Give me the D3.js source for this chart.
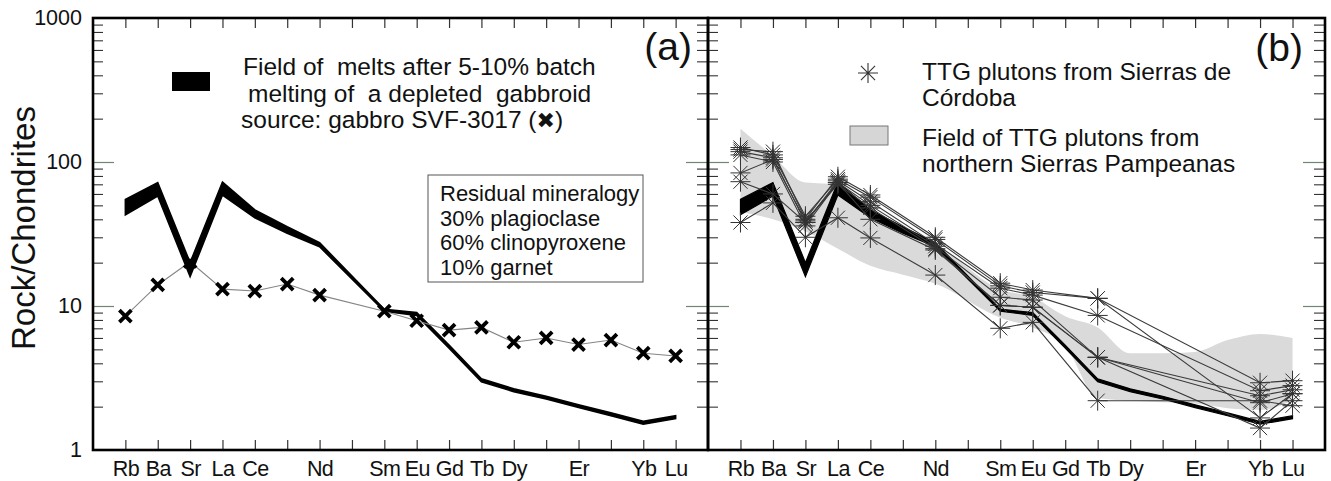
<!DOCTYPE html>
<html>
<head>
<meta charset="utf-8">
<script src="https://cdn.jsdelivr.net/npm/d3@7"></script>
<style>
  html, body { margin: 0; padding: 0; background: #fff; }
  svg { display: block; font-family: "Liberation Sans", Arial, Helvetica, sans-serif; }
</style>
</head>
<body>
<svg id="chart" width="1331" height="481"></svg>
<script>
// Element order along the x axis (chondrite-normalised spider diagram)
const elements = ["Rb","Ba","Sr","La","Ce","Pr","Nd","Pm","Sm","Eu","Gd","Tb","Dy","Ho","Er","Tm","Yb","Lu"];
const axisLabels = ["Rb","Ba","Sr","La","Ce","Nd","Sm","Eu","Gd","Tb","Dy","Er","Yb","Lu"];
const yTickLabels = [1, 10, 100, 1000];

// Field of melts after 5-10% batch melting (upper / lower bound)
const meltElements = ["Rb","Ba","Sr","La","Ce","Pr","Nd","Sm","Eu","Gd","Tb","Dy","Ho","Er","Tm","Yb","Lu"];
const meltHigh = [55, 72, 20, 72.5, 46.5, 35.5, 27.5, 9.5, 9.0, 5.35, 3.12, 2.66, 2.36, 2.06, 1.81, 1.58, 1.73];
const meltLow  = [43, 58, 16, 59, 41, 32, 25.8, 9.2, 8.6, 5.1, 2.98, 2.54, 2.26, 1.97, 1.73, 1.51, 1.65];

// Gabbro SVF-3017 source
const gabbroElements = ["Rb","Ba","Sr","La","Ce","Pr","Nd","Sm","Eu","Gd","Tb","Dy","Ho","Er","Tm","Yb","Lu"];
const gabbroValues = [8.5, 14.0, 20.3, 13.1, 12.7, 14.2, 11.9, 9.2, 7.9, 6.8, 7.1, 5.6, 6.0, 5.4, 5.8, 4.7, 4.5];

// TTG plutons from Sierras de Córdoba
const ttgElements = ["Rb","Ba","Sr","La","Ce","Nd","Sm","Eu","Tb","Yb","Lu"];
const ttg1 = [122, 118, 40, 79, 59, 30, 14.4, 12.9, 11.3, 2.93, 3.03];
const ttg2 = [126, 112, 42, 76, 57, 29, 13.8, 12.4, 11.3, 1.67, 2.46];
const ttg3 = [118, 107, 38, 74, 53, 27, 13.3, 11.9, 8.6, 2.58, 2.80];
const ttg4 = [112, 100, 36, 72, 50, 26, 11.5, 11.0, 4.4, 2.38, 2.62];
const ttg5 = [84, 104, 39, 70, 48, 25, 10.1, 9.8, 4.4, 2.13, 2.46];
const ttg6 = [73, 60, 38, 72, 40, 24.5, 10.1, 9.8, 4.4, 1.42, 2.2];
const ttg7 = [38, 52, 30, 41, 29.7, 16.4, 7.0, 7.7, 2.2, 2.2, 2.03];

// Field of TTG plutons from northern Sierras Pampeanas
const fieldElements = ["Rb","Ba","Sr","La","Ce","Pr","Nd","Sm","Eu","Gd","Tb","Dy","Ho","Er","Tm","Yb","Lu"];
const fieldHigh = [170, 110, 72, 70, 42, 33, 27, 13, 11.5, 8.5, 7.1, 4.7, 4.7, 4.8, 5.8, 6.4, 6.0];
const fieldLow  = [45, 40, 33, 25, 19, 16.5, 14.3, 8.3, 7.1, 5.3, 2.3, 2.2, 2.15, 2.1, 1.95, 1.9, 2.2];

const svg = d3.select("#chart");
const plotTop = 18, plotBottom = 450;
const y = d3.scaleLog().domain([1, 1000]).range([plotBottom, plotTop]);
const idx = name => elements.indexOf(name);
const zip = (names, vals) => names.map((n, i) => ({ el: n, v: vals[i] }));

const minorValues = [];
[1, 10, 100].forEach(d => { for (let k = 2; k <= 9; k++) minorValues.push(d * k); });

function drawFrameAxes(g, x, x0, x1, withLabels) {
  const clean = sel => sel.select(".domain").remove();
  // left side minor / major ticks (pointing inward)
  g.append("g").attr("transform", `translate(${x0},0)`)
    .call(d3.axisLeft(y).tickValues(minorValues).tickSize(-10).tickFormat(""))
    .call(clean).selectAll("line").attr("stroke", "#333").attr("stroke-width", 1.1);
  g.append("g").attr("transform", `translate(${x0},0)`)
    .call(d3.axisLeft(y).tickValues([10, 100]).tickSize(-21).tickFormat(""))
    .call(clean).selectAll("line").attr("stroke", "#6f8676").attr("stroke-width", 1.2);
  // right side ticks
  g.append("g").attr("transform", `translate(${x1},0)`)
    .call(d3.axisRight(y).tickValues(minorValues).tickSize(-11).tickFormat(""))
    .call(clean).selectAll("line").attr("stroke", "#333").attr("stroke-width", 1.1);
  g.append("g").attr("transform", `translate(${x1},0)`)
    .call(d3.axisRight(y).tickValues([10, 100]).tickSize(-22).tickFormat(""))
    .call(clean).selectAll("line").attr("stroke", "#6f8676").attr("stroke-width", 1.2);
  // top ticks
  g.append("g").attr("transform", `translate(0,${plotTop})`)
    .call(d3.axisTop(x).tickValues(d3.range(elements.length)).tickSize(-10).tickFormat(""))
    .call(clean).selectAll("line").attr("stroke", "#333").attr("stroke-width", 1.2);
  // bottom ticks with element labels
  const bx = g.append("g").attr("transform", `translate(0,${plotBottom})`)
    .call(d3.axisBottom(x).tickValues(d3.range(elements.length)).tickSize(-10).tickPadding(11)
      .tickFormat(i => axisLabels.includes(elements[i]) ? elements[i] : ""))
    .call(clean);
  bx.selectAll("line").attr("stroke", "#333").attr("stroke-width", 1.2);
  bx.selectAll("text").attr("font-size", 21.5).attr("fill", "#111")
    .attr("font-family", "'Liberation Sans', Arial, sans-serif").attr("letter-spacing", "-0.6");

  if (withLabels) {
    const ly = g.append("g").attr("transform", `translate(${x0},0)`)
      .call(d3.axisLeft(y).tickValues(yTickLabels).tickSize(0).tickPadding(11).tickFormat(d3.format("d")))
      .call(clean);
    ly.selectAll("text").attr("font-size", 21.5).attr("fill", "#111")
      .attr("font-family", "'Liberation Sans', Arial, sans-serif");
  }
}

function drawFrame(g, x0, x1) {
  g.append("rect").attr("x", x0).attr("y", plotTop)
    .attr("width", x1 - x0).attr("height", plotBottom - plotTop)
    .attr("fill", "none").attr("stroke", "#000").attr("stroke-width", 2.6);
}

function drawMelt(g, x, strokeW) {
  const melt = meltElements.map((el, i) => ({ el, hi: meltHigh[i], lo: meltLow[i] }));
  g.append("path").datum(melt)
    .attr("d", d3.area().x(d => x(idx(d.el))).y0(d => y(d.lo)).y1(d => y(d.hi)))
    .attr("fill", "#000").attr("stroke", "#000").attr("stroke-width", strokeW)
    .attr("stroke-linejoin", "miter");
}

const crossPath = "M-6,-6L6,6M-6,6L6,-6";
const starPath = (r) => {
  const a = r * Math.SQRT1_2;
  return `M${-r},0L${r},0M0,${-r}L0,${r}M${-a},${-a}L${a},${a}M${-a},${a}L${a},${-a}`;
};

// ---------- Panel (a) ----------
const xa = d3.scaleLinear().domain([-1, elements.length]).range([93, 708]);
const ga = svg.append("g");
drawFrameAxes(ga, xa, 93, 708, true);
drawMelt(ga, xa, 1.6);

const gabbro = zip(gabbroElements, gabbroValues);
ga.append("path").datum(gabbro)
  .attr("d", d3.line().x(d => xa(idx(d.el))).y(d => y(d.v)))
  .attr("fill", "none").attr("stroke", "#858585").attr("stroke-width", 1.1);
ga.selectAll(".gx").data(gabbro).join("path")
  .attr("transform", d => `translate(${xa(idx(d.el))},${y(d.v)})`)
  .attr("d", crossPath).attr("stroke", "#000").attr("stroke-width", 3.8).attr("fill", "none");

// legend (a)
ga.append("rect").attr("x", 172).attr("y", 72).attr("width", 38).attr("height", 19).attr("fill", "#000");
const legA = ga.append("g").attr("font-size", 24.5).attr("fill", "#111");
legA.append("text").attr("x", 243).attr("y", 75).attr("xml:space", "preserve").text("Field of  melts after 5-10% batch");
legA.append("text").attr("x", 248).attr("y", 102).attr("xml:space", "preserve").text("melting of  a depleted  gabbroid");
const l3 = legA.append("text").attr("x", 241).attr("y", 128);
l3.append("tspan").text("source: gabbro SVF-3017 (");
l3.append("tspan").attr("font-family", "DejaVu Sans").attr("font-size", 22).text("\u2716");
l3.append("tspan").text(")");

// residual mineralogy box
ga.append("rect").attr("x", 428).attr("y", 175).attr("width", 215).attr("height", 107)
  .attr("fill", "#fff").attr("stroke", "#555").attr("stroke-width", 1);
const boxLines = ["Residual mineralogy", "30% plagioclase", "60% clinopyroxene", "10% garnet"];
ga.append("g").attr("font-size", 22).attr("fill", "#111")
  .selectAll("text").data(boxLines).join("text")
  .attr("x", 440).attr("y", (d, i) => 201 + i * 24.5).text(d => d);

ga.append("text").attr("x", 692).attr("y", 60).attr("text-anchor", "end")
  .attr("font-size", 39).attr("fill", "#111").text("(a)");

// y axis title
svg.append("text").attr("transform", "translate(35,228) rotate(-90)")
  .attr("text-anchor", "middle").attr("font-size", 33).attr("fill", "#111").text("Rock/Chondrites");

drawFrame(ga, 93, 708);

// ---------- Panel (b) ----------
const xb = d3.scaleLinear().domain([-1, elements.length]).range([708, 1325]);
const gb = svg.append("g");

const field = fieldElements.map((el, i) => ({ el, hi: fieldHigh[i], lo: fieldLow[i] }));
gb.append("path").datum(field)
  .attr("d", d3.area().curve(d3.curveMonotoneX).x(d => xb(idx(d.el))).y0(d => y(d.lo)).y1(d => y(d.hi)))
  .attr("fill", "#dadada").attr("stroke", "none");

drawFrameAxes(gb, xb, 708, 1325, false);
drawMelt(gb, xb, 1.2);

const ttgSeries = [ttg1, ttg2, ttg3, ttg4, ttg5, ttg6, ttg7].map(vals => zip(ttgElements, vals));
const ttgLine = d3.line().x(d => xb(idx(d.el))).y(d => y(d.v));
gb.selectAll(".ttg").data(ttgSeries).join("path")
  .attr("d", ttgLine).attr("fill", "none").attr("stroke", "#3a3a3a").attr("stroke-width", 1.1);
gb.selectAll(".ttgpts").data(ttgSeries.flat()).join("path")
  .attr("transform", d => `translate(${xb(idx(d.el))},${y(d.v)})`)
  .attr("d", starPath(10)).attr("stroke", "#333").attr("stroke-width", 1).attr("fill", "none");

// legend (b)
gb.append("path").attr("transform", "translate(868,73)").attr("d", starPath(10))
  .attr("stroke", "#333").attr("stroke-width", 1.1).attr("fill", "none");
gb.append("rect").attr("x", 850).attr("y", 126).attr("width", 38).attr("height", 19)
  .attr("fill", "#d6d6d6").attr("stroke", "#777").attr("stroke-width", 1);
const legB = gb.append("g").attr("font-size", 24.5).attr("fill", "#111");
[["TTG plutons from Sierras de", 80], ["Córdoba", 106], ["Field of TTG plutons from", 146], ["northern Sierras Pampeanas", 172]]
  .forEach(([t, yy]) => legB.append("text").attr("x", 922).attr("y", yy).text(t));

gb.append("text").attr("x", 1303).attr("y", 61).attr("text-anchor", "end")
  .attr("font-size", 39).attr("fill", "#111").text("(b)");

drawFrame(gb, 708, 1325);
</script>
</body>
</html>
